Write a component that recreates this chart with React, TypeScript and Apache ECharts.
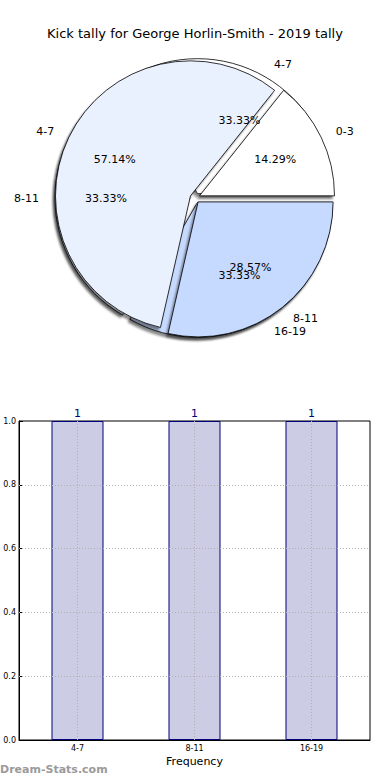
import React, { useEffect, useRef } from 'react';
import * as echarts from 'echarts';

const chartTitle = 'Kick tally for George Horlin-Smith - 2019 tally';
const pieACategories = ['4-7', '8-11', '16-19'];
const pieAValues = [1, 1, 1];
const pieBCategories = ['0-3', '4-7', '8-11'];
const pieBValues = [1, 4, 2];
const pieColors = ['#ffffff', '#eaf1fe', '#c6d9fe'];
const barCategories = ['4-7', '8-11', '16-19'];
const barValues = [1, 1, 1];
const yGridTicks = [0.2, 0.4, 0.6, 0.8];

const FONT = 'DejaVu Sans';
const R = 135;
const CENTER = [195, 198];
const EXPLODE = 5;

function wedgeSeries(cats: string[], vals: number[]) {
  return {
    type: 'pie',
    center: CENTER,
    radius: [0, R],
    startAngle: 0,
    clockwise: false,
    avoidLabelOverlap: false,
    selectedMode: 'multiple',
    selectedOffset: EXPLODE,
    silent: true,
    emphasis: { disabled: true },
    labelLayout: { hideOverlap: false },
    data: cats.map((c, i) => ({
      name: c,
      value: vals[i],
      selected: true,
      itemStyle: { color: pieColors[i % pieColors.length] },
    })),
    itemStyle: {
      borderColor: '#000',
      borderWidth: 0.8,
      shadowColor: 'rgba(0,0,0,0.45)',
      shadowOffsetX: -2,
      shadowOffsetY: 3,
      shadowBlur: 2,
    },
    label: {
      show: true,
      position: 'outside',
      formatter: '{b}',
      color: '#000',
      fontSize: 11,
      fontFamily: FONT,
      distanceToLabelLine: 2,
    },
    labelLine: { show: false, length: Math.round(R * 0.1), length2: 0 },
  };
}

function pctSeries(cats: string[], vals: number[]) {
  const sum = vals.reduce((a, b) => a + b, 0);
  return {
    type: 'pie',
    center: CENTER,
    radius: [0, R * 1.2],
    startAngle: 0,
    clockwise: false,
    avoidLabelOverlap: false,
    selectedMode: 'multiple',
    selectedOffset: EXPLODE,
    silent: true,
    emphasis: { disabled: true },
    labelLayout: { hideOverlap: false },
    data: cats.map((c, i) => ({ name: c, value: vals[i], selected: true })),
    itemStyle: { color: 'rgba(0,0,0,0)', borderWidth: 0 },
    label: {
      show: true,
      position: 'inside',
      rotate: 0,
      formatter: (p: any) => ((p.value / sum) * 100).toFixed(2) + '%',
      color: '#000',
      fontSize: 11,
      fontFamily: FONT,
    },
    labelLine: { show: false },
  };
}

export default function App() {
  const ref = useRef<HTMLDivElement>(null);
  useEffect(() => {
    if (!ref.current) return;
    const chart = echarts.init(ref.current, null, { renderer: 'svg' });
    chart.setOption({
      animation: false,
      backgroundColor: '#ffffff',
      title: {
        text: chartTitle,
        left: 'center',
        top: 22,
        textStyle: { fontSize: 13, fontWeight: 'normal', color: '#000', fontFamily: FONT },
      },
      grid: {
        left: 19,
        right: 20,
        top: 421,
        bottom: 40,
        show: true,
        borderColor: '#000',
        borderWidth: 1,
        backgroundColor: 'transparent',
      },
      xAxis: {
        type: 'category',
        data: barCategories,
        axisLine: { show: true, lineStyle: { color: '#000', width: 1 } },
        axisTick: { show: true, inside: true, alignWithLabel: true, length: 4, lineStyle: { color: '#000' } },
        axisLabel: { fontSize: 8, color: '#000', fontFamily: FONT, margin: 4 },
        splitLine: { show: false },
        name: 'Frequency',
        nameLocation: 'middle',
        nameGap: 16,
        nameTextStyle: { fontSize: 11, color: '#000', fontFamily: FONT },
      },
      yAxis: {
        type: 'value',
        min: 0,
        max: 1,
        interval: 0.2,
        axisLine: { show: true, lineStyle: { color: '#000', width: 1 } },
        axisTick: { show: true, inside: true, length: 4, lineStyle: { color: '#000' } },
        axisLabel: {
          fontSize: 8,
          color: '#000',
          fontFamily: FONT,
          margin: 3,
          formatter: (v: number) => v.toFixed(1),
        },
        splitLine: { show: false },
      },
      graphic: [
        {
          type: 'text',
          left: 0,
          top: 764,
          style: {
            text: 'Dream-Stats.com',
            fill: '#9a9a9a',
            font: 'bold 11px "DejaVu Sans"',
          },
        },
      ],
      series: [
        wedgeSeries(pieACategories, pieAValues),
        wedgeSeries(pieBCategories, pieBValues),
        pctSeries(pieACategories, pieAValues),
        pctSeries(pieBCategories, pieBValues),
        {
          type: 'bar',
          data: barValues,
          barWidth: 52,
          silent: true,
          itemStyle: { color: '#ccccE4', borderColor: '#00007a', borderWidth: 1 },
          label: {
            show: true,
            position: 'top',
            distance: 2,
            color: '#000080',
            fontSize: 11,
            fontFamily: FONT,
          },
          markLine: {
            silent: true,
            symbol: 'none',
            label: { show: false },
            lineStyle: { type: [1, 2], color: '#b0b0b0', width: 1 },
            data: [
              ...barCategories.map((c) => ({ xAxis: c })),
              ...yGridTicks.map((t) => ({ yAxis: t })),
            ],
          },
        },
      ],
    });
    return () => chart.dispose();
  }, []);
  return (
    <div
      ref={ref}
      style={{ position: 'fixed', left: 0, top: 0, width: 390, height: 780 }}
    />
  );
}
